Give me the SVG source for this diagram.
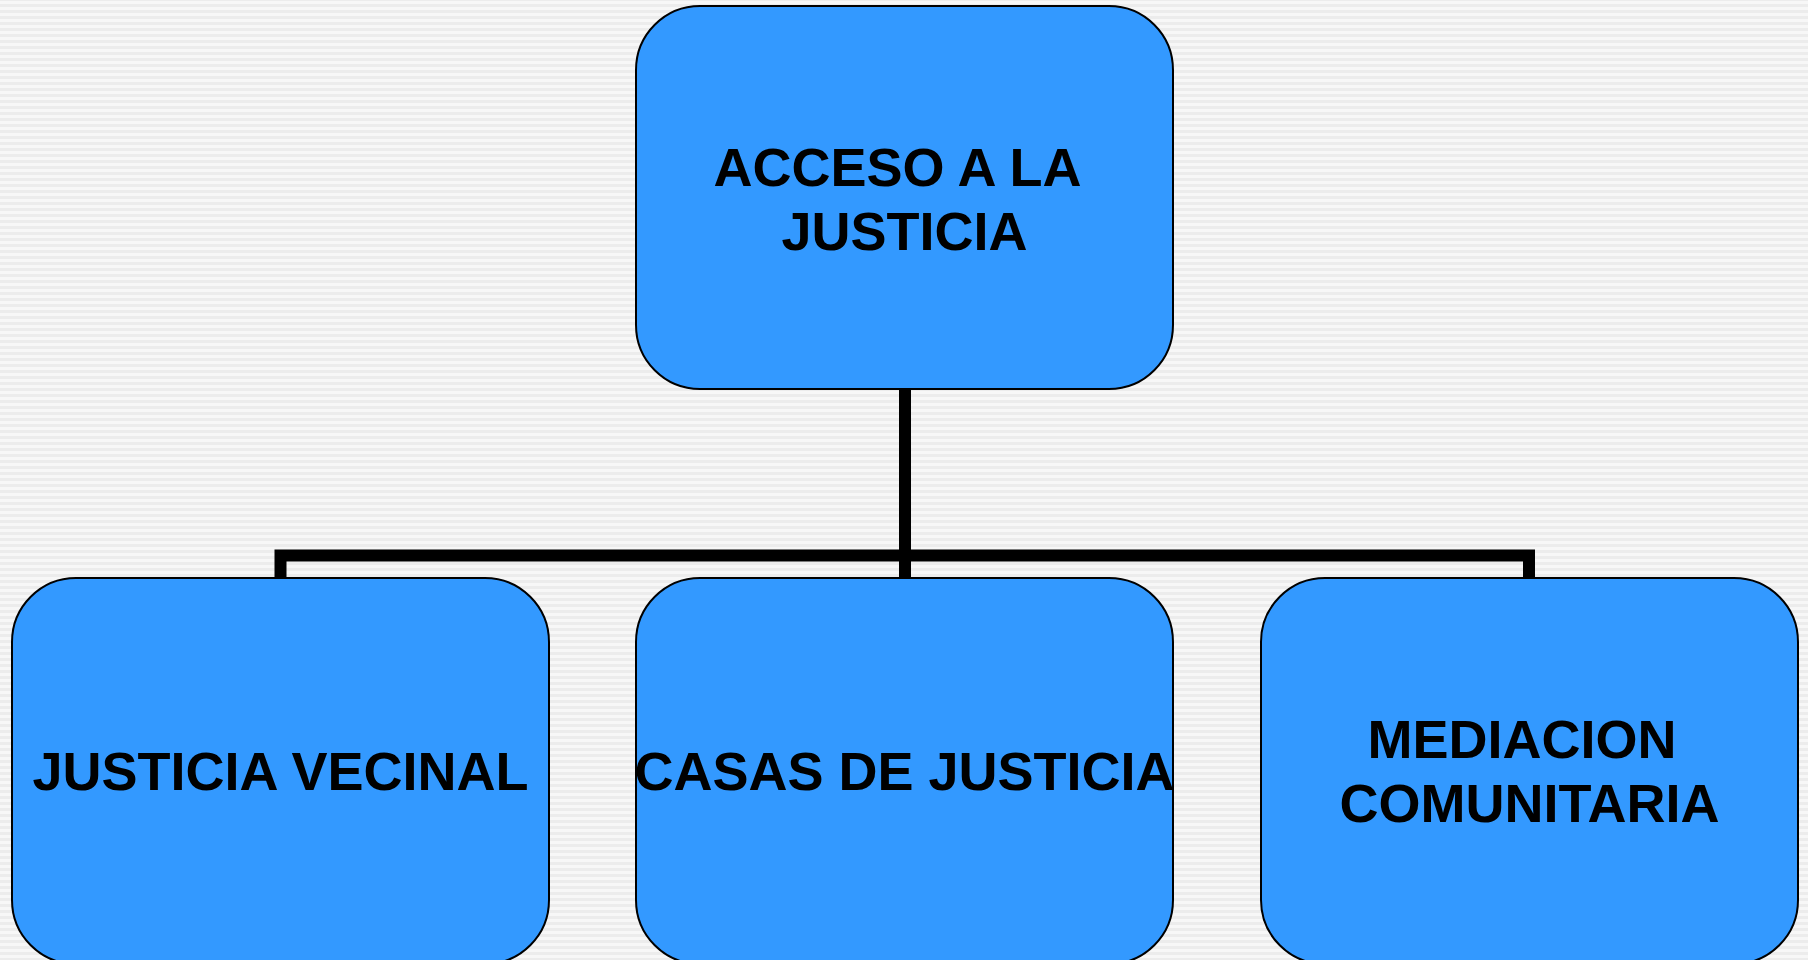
<svg xmlns="http://www.w3.org/2000/svg" width="1808" height="960" viewBox="0 0 1808 960">
  <defs>
    <pattern id="stripes" x="0" y="0" width="8" height="6" patternUnits="userSpaceOnUse">
      <rect x="0" y="0" width="8" height="6" fill="#ececec"/>
      <rect x="0" y="1" width="8" height="3" fill="#f7f7f7"/>
    </pattern>
    <style>
      .box { fill: #3399ff; stroke: #000000; stroke-width: 2; }
      .lbl { font-family: "Liberation Sans", Arial, sans-serif; font-weight: bold; font-size: 54px; fill: #000000; text-anchor: middle; }
      .conn { fill: none; stroke: #000000; stroke-width: 12; stroke-linejoin: miter; }
    </style>
  </defs>
  <rect x="0" y="0" width="1808" height="960" fill="url(#stripes)"/>

  <g id="connectors">
    <path class="conn" d="M905,389 V578"/>
    <path class="conn" d="M280.5,578 V555.5 H1529 V578"/>
  </g>

  <g id="node-acceso">
    <rect class="box" x="636" y="6" width="537" height="383" rx="64" ry="64"/>
    <text class="lbl" x="897.5" y="186">ACCESO A LA</text>
    <text class="lbl" x="904.5" y="250">JUSTICIA</text>
  </g>

  <g id="node-vecinal">
    <rect class="box" x="12" y="578" width="537" height="386" rx="64" ry="64"/>
    <text class="lbl" x="280.5" y="790">JUSTICIA VECINAL</text>
  </g>

  <g id="node-casas">
    <rect class="box" x="636" y="578" width="537" height="386" rx="64" ry="64"/>
    <text class="lbl" x="904.5" y="790">CASAS DE JUSTICIA</text>
  </g>

  <g id="node-mediacion">
    <rect class="box" x="1261" y="578" width="537" height="386" rx="64" ry="64"/>
    <text class="lbl" x="1522" y="758">MEDIACION</text>
    <text class="lbl" x="1529.5" y="822">COMUNITARIA</text>
  </g>
</svg>
